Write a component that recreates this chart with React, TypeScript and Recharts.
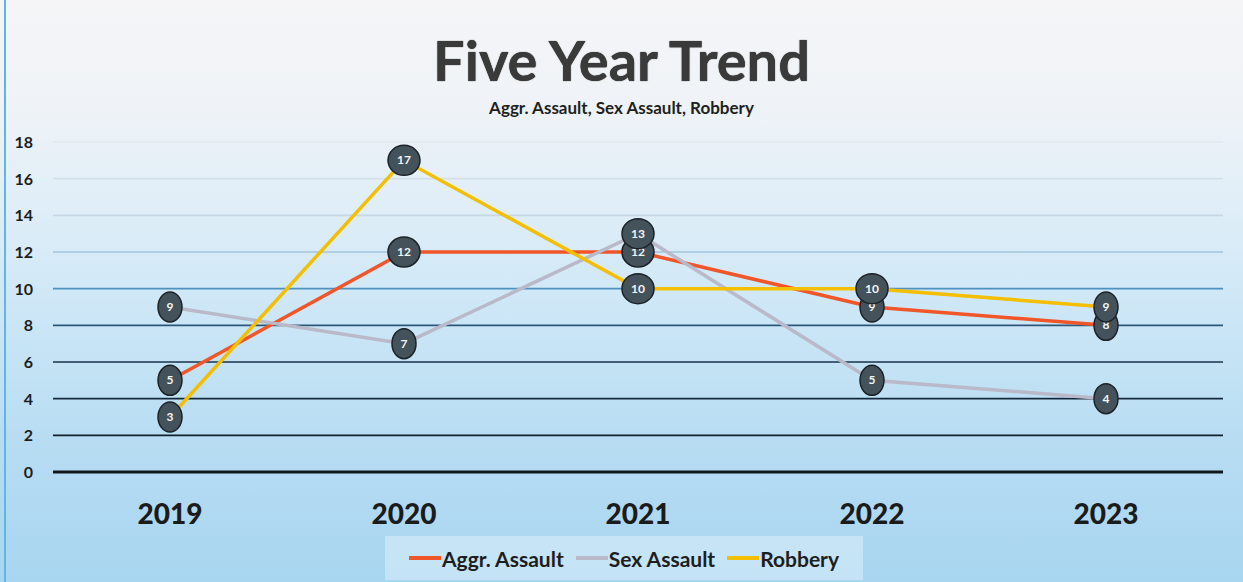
import React from 'react';
import { LineChart, Line, XAxis, YAxis, CartesianGrid, ReferenceLine } from 'recharts';

// chart values
const years = ['2019', '2020', '2021', '2022', '2023'];
const aggrAssault = [5, 12, 12, 9, 8];
const sexAssault = [9, 7, 13, 5, 4];
const robbery = [3, 17, 10, 10, 9];
const yTicks = [0, 2, 4, 6, 8, 10, 12, 14, 16, 18];

const seriesNames = ['Aggr. Assault', 'Sex Assault', 'Robbery'];
const seriesColors = ['#f0562a', '#b9b9c9', '#f4bf00'];

const W = 1243;
const H = 582;
const FONT = 'Lato, "Open Sans", sans-serif';

const data = years.map((year, i) => ({
  year,
  aggr: aggrAssault[i],
  sex: sexAssault[i],
  robbery: robbery[i]
}));

// dark ellipse marker with the value printed inside
const ValueDot = (props: any) => {
  const { cx, cy, value } = props;
  if (cx == null || cy == null) return null;
  const rx = String(value).length > 1 ? 16 : 12;
  return (
    <g>
      <ellipse cx={cx} cy={cy} rx={rx} ry={15} fill="#44525c" stroke="#1c2226" strokeWidth={1.5} />
      <text
        x={cx}
        y={cy + 4}
        textAnchor="middle"
        fontFamily={FONT}
        fontWeight={700}
        fontSize={12}
        fill="#f4f4f4"
      >
        {value}
      </text>
    </g>
  );
};

const YTick = ({ y, payload }: any) => (
  <text x={33} y={y + 6} textAnchor="end" fontFamily={FONT} fontWeight={700} fontSize={16} fill="#1d1d1d">
    {payload.value}
  </text>
);

const XTick = ({ x, payload }: any) => (
  <text x={x} y={524} textAnchor="middle" fontFamily={FONT} fontWeight={900} fontSize={28} fill="#1b1b1b">
    {payload.value}
  </text>
);

export default function App() {
  const keys = ['aggr', 'sex', 'robbery'];
  return (
    <div
      style={{
        position: 'absolute',
        left: 0,
        top: 0,
        width: W,
        height: H,
        overflow: 'hidden',
        background:
          'linear-gradient(to bottom, #f5f5f7 0%, #eff3f7 18%, #e0eef8 35%, #cbe6f6 55%, #b8ddf3 75%, #a8d5f0 100%)'
      }}
    >
      <div style={{ position: 'absolute', left: 4, top: 0, width: 2, height: H, background: '#5db6e3' }} />
      <div
        style={{
          position: 'absolute',
          top: 26,
          width: '100%',
          textAlign: 'center',
          fontFamily: FONT,
          fontWeight: 700,
          fontSize: 56,
          color: '#3a3a3a',
          textShadow: '0 0 1px #111'
        }}
      >
        Five Year Trend
      </div>
      <div
        style={{
          position: 'absolute',
          top: 97,
          width: '100%',
          textAlign: 'center',
          fontFamily: FONT,
          fontWeight: 700,
          fontSize: 17,
          color: '#1f1f1f'
        }}
      >
        Aggr. Assault, Sex Assault, Robbery
      </div>

      <LineChart
        width={W}
        height={H}
        data={data}
        margin={{ top: 142, right: 20, left: 0, bottom: 50 }}
        style={{ position: 'absolute', left: 0, top: 0 }}
      >
        <defs>
          <linearGradient id="gridFade" gradientUnits="userSpaceOnUse" x1="0" y1="142" x2="0" y2="472">
            <stop offset="0%" stopColor="#e3e8ee" />
            <stop offset="30%" stopColor="#bcd2e2" />
            <stop offset="45%" stopColor="#4a8fbf" />
            <stop offset="62%" stopColor="#1a3550" />
            <stop offset="100%" stopColor="#0e1620" />
          </linearGradient>
        </defs>
        <CartesianGrid vertical={false} stroke="url(#gridFade)" strokeWidth={1.6} />
        <ReferenceLine y={0} stroke="#10161c" strokeWidth={3} />
        <XAxis
          dataKey="year"
          axisLine={false}
          tickLine={false}
          height={60}
          padding={{ left: 117, right: 117 }}
          tick={<XTick />}
          interval={0}
        />
        <YAxis
          domain={[0, 18]}
          ticks={yTicks}
          width={53}
          axisLine={false}
          tickLine={false}
          tick={<YTick />}
          interval={0}
        />
        {keys.map((k, i) => (
          <Line
            key={k}
            type="linear"
            dataKey={k}
            name={seriesNames[i]}
            stroke={seriesColors[i]}
            strokeWidth={3.5}
            dot={<ValueDot />}
            activeDot={false}
            isAnimationActive={false}
          />
        ))}
      </LineChart>

      <div
        style={{
          position: 'absolute',
          left: 385,
          top: 536,
          width: 478,
          height: 44,
          background: 'rgba(215, 236, 250, 0.6)',
          display: 'flex',
          alignItems: 'center',
          justifyContent: 'center',
          gap: 12,
          fontFamily: FONT,
          fontWeight: 700,
          fontSize: 21,
          color: '#1e1e1e'
        }}
      >
        {seriesNames.map((name, i) => (
          <div key={name} style={{ display: 'flex', alignItems: 'center' }}>
            <span style={{ display: 'inline-block', width: 32, height: 4, background: seriesColors[i], marginRight: 1 }} />
            <span>{name}</span>
          </div>
        ))}
      </div>
    </div>
  );
}
